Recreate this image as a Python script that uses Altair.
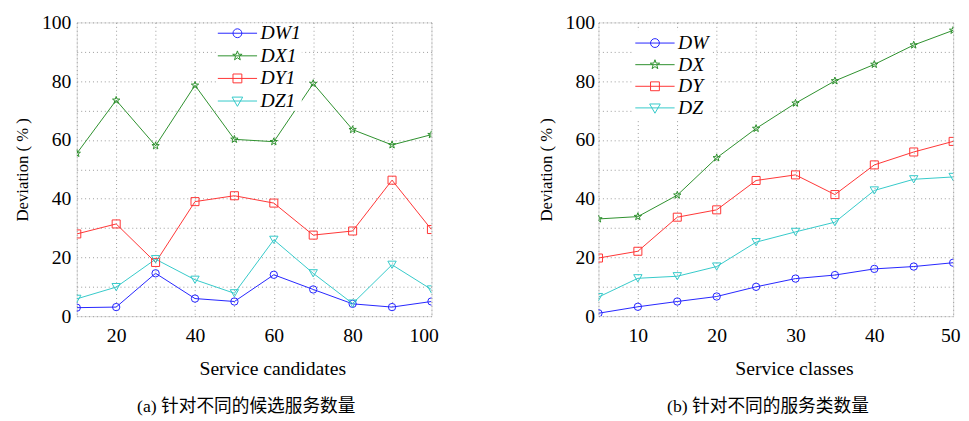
import altair as alt
import pandas as pd

# ---------------- data ----------------
cand_x = [10, 20, 30, 40, 50, 60, 70, 80, 90, 100]
dw1 = [2.9, 3.1, 14.6, 6.0, 5.0, 14.1, 9.1, 4.2, 3.1, 5.0]
dx1 = [55.4, 73.5, 58.0, 78.6, 60.2, 59.4, 79.2, 63.5, 58.3, 61.8]
dy1 = [28.0, 31.4, 18.3, 39.0, 41.0, 38.5, 27.6, 29.0, 46.3, 29.5]
dz1 = [5.9, 9.9, 19.4, 12.4, 7.8, 26.0, 14.6, 4.3, 17.5, 9.1]

class_x = [5, 10, 15, 20, 25, 30, 35, 40, 45, 50]
dw = [1.0, 3.2, 5.0, 6.7, 10.0, 12.8, 14.0, 16.1, 16.9, 18.2]
dx = [33.1, 33.9, 41.2, 53.9, 63.9, 72.5, 80.1, 85.7, 92.3, 97.3]
dy = [19.8, 22.1, 33.7, 36.2, 46.2, 48.1, 41.4, 51.5, 55.9, 59.5]
dz = [6.5, 12.9, 13.6, 16.9, 25.2, 28.7, 32.0, 42.8, 46.6, 47.4]

names_a = ["DW1", "DX1", "DY1", "DZ1"]
names_b = ["DW", "DX", "DY", "DZ"]
y_ticks = [0, 10, 20, 30, 40, 50, 60, 70, 80, 90, 100]
x_ticks_a = [10, 20, 30, 40, 50, 60, 70, 80, 90, 100]
x_ticks_b = [5, 10, 15, 20, 25, 30, 35, 40, 45, 50]

# ---------------- styles ----------------
COLORS = ["#2323ff", "#2b8f2b", "#ff3333", "#33c9c9"]
SERIF = "Liberation Serif"
CAP_FONT = "Liberation Serif, Noto Sans CJK SC"
STAR = ("M0,-1L0.235,-0.324L0.951,-0.309L0.380,0.124L0.588,0.809L0,0.4"
        "L-0.588,0.809L-0.380,0.124L-0.951,-0.309L-0.235,-0.324Z")
MARKERS = ["circle", STAR, "square", "triangle-down"]
MARKER_SIZES = [56, 72, 56, 64]
LEG_LINE = "M-1,0L1,0"
LEG_MARKERS = [
    LEG_LINE + "M0.225,0A0.225,0.225,0,1,1,-0.225,0A0.225,0.225,0,1,1,0.225,0",
    LEG_LINE + "M0,-0.25L0.059,-0.081L0.238,-0.077L0.095,0.031L0.147,0.202L0,0.1"
               "L-0.147,0.202L-0.095,0.031L-0.238,-0.077L-0.059,-0.081Z",
    LEG_LINE + "M-0.225,-0.225L0.225,-0.225L0.225,0.225L-0.225,0.225Z",
    LEG_LINE + "M-0.27,-0.2L0.27,-0.2L0,0.27Z",
]


def long_df(xs, names, series):
    rows = []
    for n, vals in zip(names, series):
        for x, v in zip(xs, vals):
            rows.append({"x": x, "y": v, "s": n})
    return pd.DataFrame(rows)


def panel(df, names, xdom, xticks, lab_step, xtitle, caption, leg_opts,
          ylab_pad, extra_space):
    x = alt.X("x:Q", scale=alt.Scale(domain=xdom, nice=False, zero=False),
              axis=alt.Axis(values=xticks,
                            labelExpr=f"datum.value % {lab_step} == 0 ? datum.label : ''",
                            title=xtitle, titleX=199, grid=True, gridColor="#9a9a9a",
                            gridDash=[1, 3], gridWidth=1, ticks=False, domain=False,
                            labelFont=SERIF, labelFontSize=20, labelColor="black",
                            labelPadding=10, labelOverlap=False, labelFlush=True,
                            labelFlushOffset=7,
                            titleFont=SERIF, titleFontSize=20, titleFontWeight="normal",
                            titleColor="black", titlePadding=13))
    y = alt.Y("y:Q", scale=alt.Scale(domain=[0, 100], nice=False),
              axis=alt.Axis(values=y_ticks,
                            labelExpr="datum.value % 20 == 0 ? datum.label : ''",
                            title="Deviation (\u2005%\u2005)", grid=True,
                            gridColor="#9a9a9a", gridDash=[1, 3], gridWidth=1,
                            ticks=False, domain=False, labelFont=SERIF,
                            labelFontSize=20, labelColor="black",
                            labelPadding=ylab_pad, labelOverlap=False, labelFlush=False,
                            titleFont=SERIF, titleFontSize=17,
                            titleFontWeight="normal", titleColor="black",
                            titlePadding=10))
    col_scale = alt.Scale(domain=names, range=COLORS)
    base = alt.Chart(df)
    lines = base.mark_line(strokeWidth=1, clip=True).encode(
        x=x, y=y, color=alt.Color("s:N", scale=col_scale, legend=None))
    points = base.mark_point(filled=False, strokeWidth=1, opacity=1, clip=True).encode(
        x=x, y=y,
        color=alt.Color("s:N", scale=col_scale, legend=None),
        shape=alt.Shape("s:N", scale=alt.Scale(domain=names, range=MARKERS), legend=None),
        size=alt.Size("s:N", scale=alt.Scale(domain=names, range=MARKER_SIZES), legend=None))
    pad = "\u00a0" * extra_space
    leg = dict(orient="none", title=None, fillColor="white",
               labelFont=SERIF, labelFontStyle="italic", labelFontSize=20,
               labelColor="black", labelOffset=3, symbolStrokeWidth=1,
               symbolSize=1600, labelExpr=f"datum.label + '{pad}'", **leg_opts)
    legend_layer = base.mark_point(filled=False, strokeWidth=1, opacity=1, size=1600,
                                   clip=True).encode(
        x=x, y=y,
        color=alt.Color("s:N", scale=col_scale, legend=alt.Legend(**leg)),
        shape=alt.Shape("s:N", scale=alt.Scale(domain=names, range=LEG_MARKERS),
                        legend=alt.Legend(**leg)),
    ).transform_filter("datum.y > 1000")
    return alt.layer(lines, points, legend_layer).resolve_scale(
        color="independent", shape="independent", size="independent"
    ).properties(
        width=361, height=299,
        title=alt.TitleParams(caption, orient="bottom", anchor="middle", frame="group",
                              font=CAP_FONT, fontSize=18, fontWeight="normal",
                              color="black", offset=21, dx=-8))


df_a = long_df(cand_x, names_a, [dw1, dx1, dy1, dz1])
df_b = long_df(class_x, names_b, [dw, dx, dy, dz])

left = panel(df_a, names_a, [10, 100], x_ticks_a, 20, "Service candidates",
             "(a)  针对不同的候选服务数量",
             dict(legendX=143, legendY=1, padding=0, clipHeight=20, rowPadding=3),
             6, 0)
right = panel(df_b, names_b, [5, 50], x_ticks_b, 10, "Service classes",
              "(b)  针对不同的服务类数量",
              dict(legendX=35, legendY=8, padding=2, clipHeight=22, rowPadding=0),
              4, 34)

chart = alt.hconcat(left, right, spacing=99).properties(
    padding={"left": 5, "top": 0, "right": 0, "bottom": 0}
).configure_view(stroke="black", strokeWidth=1).configure(background="white")

chart.save("out.html", embed_options={"renderer": "svg", "actions": False})
